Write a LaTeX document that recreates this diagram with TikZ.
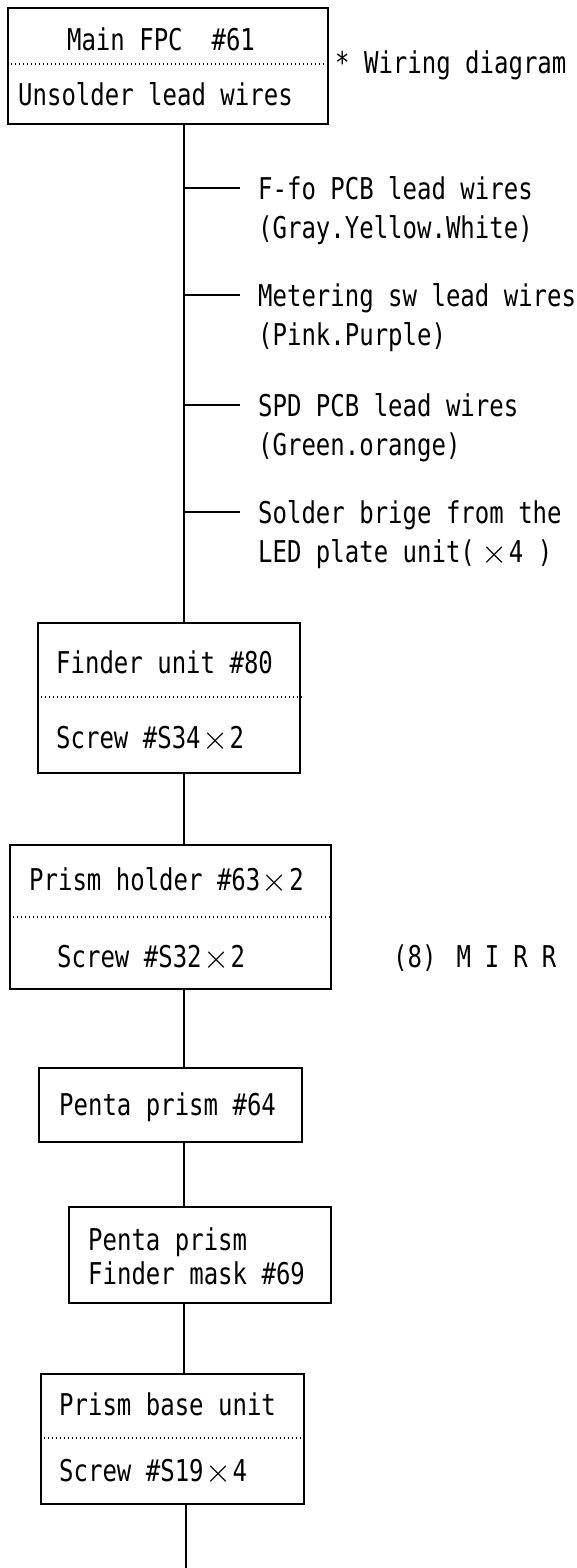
\documentclass[tikz,border=0pt]{standalone}
\usepackage{fontspec}
\usepackage{graphicx}
\newfontfamily\dmono[FakeStretch=0.8]{DejaVu Sans Mono}
\newcommand\Xm{\makebox[29pt][c]{\raisebox{-1pt}{\scalebox{1.35}{$\times$}}}}
\begin{document}
\begin{tikzpicture}[x=1pt,y=-1pt,
  box/.style={draw, line width=2.4pt, rectangle, inner sep=0pt},
  conn/.style={line width=1.3pt},
  sep/.style={line width=1.2pt, dash pattern=on 1.2pt off 2.8pt},
  txt/.style={anchor=base west, inner sep=0pt, font=\dmono\fontsize{30}{38}\selectfont},
  ctxt/.style={anchor=base, inner sep=0pt, font=\dmono\fontsize{30}{38}\selectfont}]
\useasboundingbox (0,0) rectangle (576,1568);
\coordinate (spine) at (184,0);
\coordinate (endc) at (186,1568);

% Box 1
\node[box, minimum width=320, minimum height=116] (b1) at (168,66) {};
\draw[sep] (b1.west |- 0,64) -- (b1.east |- 0,64);
\node[ctxt] (t1a) at (161,51) {Main FPC\ \ \#61};
\node[txt] (t1b) at (18,106) {Unsolder lead wires};
\node[txt] (t1c) at (335,74) {* Wiring diagram};

% Finder unit
\node[box, minimum width=262, minimum height=150] (b2) at (169,698) {};
\draw[sep] (b2.west |- 0,697) -- (b2.east |- 0,697);
\node[txt] (t2a) at (56,673) {Finder unit \#80};
\node[txt] (t2b) at (56,748) {Screw \#S34\Xm2};

% branches
\coordinate (j1) at (184,188);
\coordinate (j2) at (184,295);
\coordinate (j3) at (184,405);
\coordinate (j4) at (184,512);
\draw[conn] (b1.south -| spine) -- (b2.north -| spine);
\foreach \j/\y in {j1/188,j2/295,j3/405,j4/512}{
  \coordinate (\j e) at (240,\y);
  \draw[conn] (\j) -- (\j e);
}
\node[txt] (w1a) at (258,199) {F-fo PCB lead wires};
\node[txt] (w1b) at (258,238) {(Gray.Yellow.White)};
\node[txt] (w2a) at (258,306) {Metering sw lead wires};
\node[txt] (w2b) at (258,345) {(Pink.Purple)};
\node[txt] (w3a) at (258,416) {SPD PCB lead wires};
\node[txt] (w3b) at (258,455) {(Green.orange)};
\node[txt] (w4a) at (258,523) {Solder brige from the};
\node[txt] (w4b) at (258,562) {LED plate unit(\hspace{5pt}\Xm4 )};

% Prism holder
\node[box, minimum width=321, minimum height=144] (b3) at (170.5,917) {};
\draw[sep] (b3.west |- 0,917) -- (b3.east |- 0,917);
\node[txt] (t3a) at (29,890) {Prism holder \#63\Xm2};
\node[txt] (t3b) at (57,967) {Screw \#S32\Xm2};
\node[txt] (t3c) at (393,967) {(8)\hspace{20pt}M\hspace{14pt}I\hspace{14pt}R\hspace{14pt}R};
\draw[conn] (b2.south -| spine) -- (b3.north -| spine);

% Penta prism
\node[box, minimum width=263, minimum height=74] (b4) at (170.5,1105) {};
\node[txt] (t4a) at (59,1115) {Penta prism \#64};
\draw[conn] (b3.south -| spine) -- (b4.north -| spine);

% Penta prism finder mask
\node[box, minimum width=262, minimum height=96] (b5) at (200,1255) {};
\node[txt] (t5a) at (88,1250) {Penta prism};
\node[txt] (t5b) at (88,1284) {Finder mask \#69};
\draw[conn] (b4.south -| spine) -- (b5.north -| spine);

% Prism base unit
\node[box, minimum width=263, minimum height=130] (b6) at (172.5,1439) {};
\draw[sep] (b6.west |- 0,1438) -- (b6.east |- 0,1438);
\node[txt] (t6a) at (59,1415) {Prism base unit};
\node[txt] (t6b) at (59,1481) {Screw \#S19\Xm4};
\draw[conn] (b5.south -| spine) -- (b6.north -| spine);
\draw[conn] (b6.south -| endc) -- (endc);
\end{tikzpicture}
\end{document}
